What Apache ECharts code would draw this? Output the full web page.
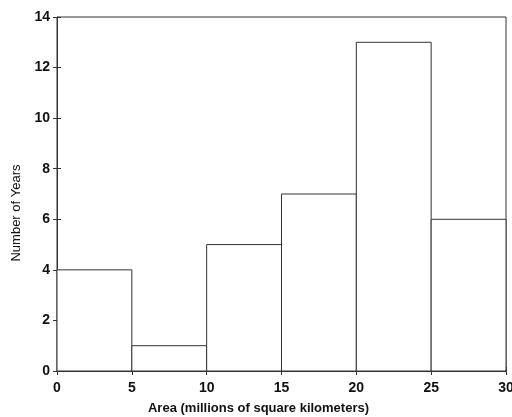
<!DOCTYPE html>
<html>
<head>
<meta charset="utf-8">
<script src="https://cdn.jsdelivr.net/npm/echarts@6/dist/echarts.min.js"></script>
<style>
  html, body { margin: 0; padding: 0; background: #fff; overflow: hidden; }
  #chart { width: 512px; height: 417px; }
</style>
</head>
<body>
<div id="chart"></div>
<script>
// histogram bins and counts
var binStarts = [0, 5, 10, 15, 20, 25];
var binEnds = [5, 10, 15, 20, 25, 30];
var counts = [4, 1, 5, 7, 13, 6];
var xTicks = [0, 5, 10, 15, 20, 25, 30];
var yTicks = [0, 2, 4, 6, 8, 10, 12, 14];

var chartDom = document.getElementById('chart');
var histChart = echarts.init(chartDom);
var option;

var lineColor = '#333';
var labelFont = {
  color: '#111',
  fontFamily: 'Liberation Sans, Arial, sans-serif',
  fontWeight: 'bold',
  fontSize: 14
};

var data = counts.map(function (c, i) {
  return [binStarts[i], binEnds[i], c];
});

option = {
  animation: false,
  grid: {
    left: 57,
    right: 6,
    top: 17,
    bottom: 46,
    outerBoundsMode: 'none',
    show: true,
    borderColor: lineColor,
    borderWidth: 1
  },
  xAxis: [
    {
      type: 'value',
      min: xTicks[0],
      max: xTicks[xTicks.length - 1],
      interval: 5,
      name: 'Area (millions of square kilometers)',
      nameLocation: 'middle',
      nameGap: 31,
      nameTextStyle: Object.assign({}, labelFont, { fontSize: 13, padding: [0, 46, 0, 0] }),
      axisLine: { show: true, lineStyle: { color: lineColor } },
      axisTick: { show: true, inside: true, length: 4, lineStyle: { color: lineColor } },
      axisLabel: Object.assign({ margin: 10 }, labelFont),
      splitLine: { show: false }
    },
    {
      type: 'value',
      position: 'top',
      min: xTicks[0],
      max: xTicks[xTicks.length - 1],
      interval: 5,
      axisLine: { show: false },
      axisTick: { show: true, inside: true, length: 4, lineStyle: { color: lineColor } },
      axisLabel: { show: false },
      splitLine: { show: false }
    }
  ],
  yAxis: [
    {
      type: 'value',
      min: yTicks[0],
      max: yTicks[yTicks.length - 1],
      interval: 2,
      name: 'Number of Years',
      nameLocation: 'middle',
      nameGap: 34,
      nameTextStyle: Object.assign({}, labelFont, { fontSize: 13, fontWeight: 'normal', padding: [0, 38, 0, 0] }),
      axisLine: { show: true, lineStyle: { color: lineColor } },
      axisTick: { show: true, inside: true, length: 4, lineStyle: { color: lineColor } },
      axisLabel: Object.assign({ margin: 7 }, labelFont),
      splitLine: { show: false }
    },
    {
      type: 'value',
      position: 'right',
      min: yTicks[0],
      max: yTicks[yTicks.length - 1],
      interval: 2,
      axisLine: { show: false },
      axisTick: { show: true, inside: true, length: 4, lineStyle: { color: lineColor } },
      axisLabel: { show: false },
      splitLine: { show: false }
    }
  ],
  series: [
    {
      type: 'custom',
      xAxisIndex: 0,
      yAxisIndex: 0,
      data: data,
      renderItem: function (params, api) {
        var p0 = api.coord([api.value(0), api.value(2)]);
        var p1 = api.coord([api.value(1), 0]);
        return {
          type: 'rect',
          shape: { x: p0[0], y: p0[1], width: p1[0] - p0[0], height: p1[1] - p0[1] },
          style: { fill: '#fff', stroke: lineColor, lineWidth: 1 }
        };
      },
      z: 1
    }
  ]
};

option && histChart.setOption(option);
window.addEventListener('resize', function () { histChart.resize(); });
</script>
</body>
</html>
